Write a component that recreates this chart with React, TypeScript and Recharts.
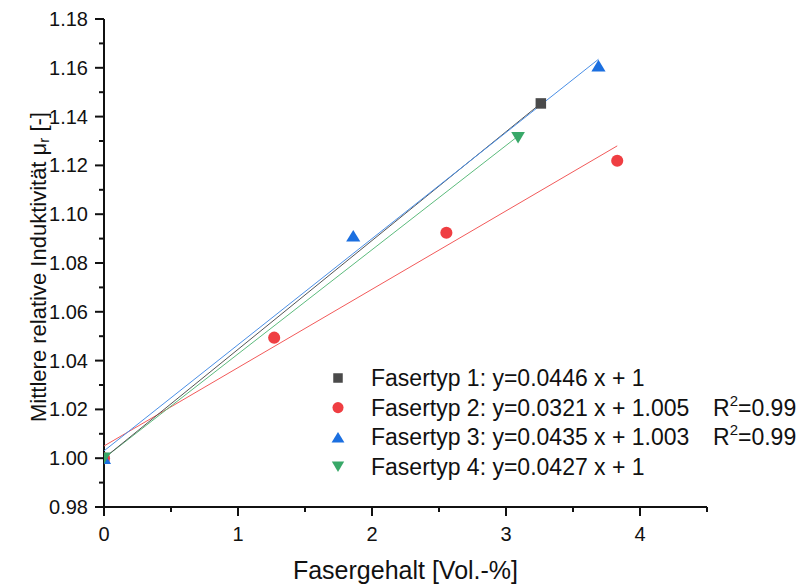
import { ScatterChart, Scatter, XAxis, YAxis } from 'recharts'

// measured points (x = Fasergehalt, y = mittlere relative Induktivität)
const typ1 = [
    { x: 0, y: 1.0 },
    { x: 3.26, y: 1.1454 },
]
const typ2 = [
    { x: 0, y: 1.0 },
    { x: 1.27, y: 1.0494 },
    { x: 2.555, y: 1.0924 },
    { x: 3.83, y: 1.1219 },
]
const typ3 = [
    { x: 0, y: 1.0 },
    { x: 1.86, y: 1.0912 },
    { x: 3.69, y: 1.1609 },
]
const typ4 = [
    { x: 0, y: 1.0 },
    { x: 3.09, y: 1.1313 },
]

// fit line end points
const fit1 = [
    { x: 0, y: 1.0 },
    { x: 3.26, y: 1.1454 },
]
const fit2 = [
    { x: 0, y: 1.005 },
    { x: 3.83, y: 1.128 },
]
const fit3 = [
    { x: 0, y: 1.003 },
    { x: 3.69, y: 1.1635 },
]
const fit4 = [
    { x: 0, y: 1.0 },
    { x: 3.09, y: 1.132 },
]

const xTicks = [0, 0.5, 1, 1.5, 2, 2.5, 3, 3.5, 4, 4.5]
const yTicks = [0.98, 0.99, 1.0, 1.01, 1.02, 1.03, 1.04, 1.05, 1.06, 1.07, 1.08, 1.09, 1.1, 1.11, 1.12, 1.13, 1.14, 1.15, 1.16, 1.17, 1.18]

const legendLabels = [
    'Fasertyp 1: y=0.0446 x + 1',
    'Fasertyp 2: y=0.0321 x + 1.005',
    'Fasertyp 3: y=0.0435 x + 1.003',
    'Fasertyp 4: y=0.0427 x + 1',
]
const legendR2 = ['', '0.99', '0.99', '']

const FONT = '"Liberation Sans", Arial, sans-serif'
const AXIS = '#111'

const MARK = {
    square: '#4a4a4a',
    circle: '#ef3e42',
    up: '#1b6fe0',
    down: '#38a868',
}
const LINE = {
    l1: '#555555',
    l2: '#f25a5a',
    l3: '#4a8fe6',
    l4: '#5cbb7c',
}

function marker(kind: string, cx: number, cy: number, s: number) {
    if (kind === 'square') {
        return <rect x={cx - s / 2} y={cy - s / 2} width={s} height={s} fill={MARK.square} />
    }
    if (kind === 'circle') {
        return <circle cx={cx} cy={cy} r={s / 2 + 0.8} fill={MARK.circle} />
    }
    if (kind === 'up') {
        const w = s * 1.35, h = s * 1.1
        return <polygon points={`${cx - w / 2},${cy + h / 2} ${cx + w / 2},${cy + h / 2} ${cx},${cy - h / 2}`} fill={MARK.up} />
    }
    const w = s * 1.3, h = s * 1.1
    return <polygon points={`${cx - w / 2},${cy - h / 2} ${cx + w / 2},${cy - h / 2} ${cx},${cy + h / 2}`} fill={MARK.down} />
}

const shapeOf = (kind: string) => (props: any) => <g>{marker(kind, props.cx, props.cy, 10.5)}</g>
const noShape = () => <g />

const YTick = (props: any) => {
    const { x, y, payload } = props
    const major = Math.round(payload.value * 100) % 2 === 0
    return (
        <g>
            <line x1={x} y1={y} x2={x - (major ? 9 : 5)} y2={y} stroke={AXIS} strokeWidth={2} />
            {major && (
                <text x={x - 16} y={y} textAnchor="end" dominantBaseline="central" fontSize={20} fontFamily={FONT} fill="#111">
                    {payload.value.toFixed(2)}
                </text>
            )}
        </g>
    )
}

const XTick = (props: any) => {
    const { x, y, payload } = props
    const major = Number.isInteger(payload.value)
    return (
        <g>
            <line x1={x} y1={y} x2={x} y2={y + (major ? 9 : 5)} stroke={AXIS} strokeWidth={2} />
            {major && (
                <text x={x} y={y + 27} textAnchor="middle" dominantBaseline="central" fontSize={20} fontFamily={FONT} fill="#111">
                    {payload.value}
                </text>
            )}
        </g>
    )
}

const YTitle = (props: any) => {
    const vb = props.viewBox
    const cx = 38
    const cy = vb.y + vb.height / 2 + 4
    return (
        <text x={cx} y={cy} transform={`rotate(-90 ${cx} ${cy})`} textAnchor="middle" dominantBaseline="central"
            fontSize={22} fontFamily={FONT} fill="#111">
            Mittlere relative Induktivität μ<tspan fontSize={15} dy={5}>r</tspan><tspan dy={-5}> [-]</tspan>
        </text>
    )
}

const XTitle = (props: any) => {
    const vb = props.viewBox
    return (
        <text x={vb.x + vb.width / 2} y={570} textAnchor="middle" dominantBaseline="central"
            fontSize={25} fontFamily={FONT} fill="#111">
            Fasergehalt [Vol.-%]
        </text>
    )
}

function LegendBox() {
    const kinds = ['square', 'circle', 'up', 'down']
    return (
        <svg width={800} height={586} style={{ position: 'absolute', left: 0, top: 0, pointerEvents: 'none' }}>
            {legendLabels.map((label, i) => {
                const cy = 378 + i * 29.6
                return (
                    <g key={label}>
                        {marker(kinds[i], 338, cy, 9.5)}
                        <text x={371} y={cy} dominantBaseline="central" fontSize={23} fontFamily={FONT} fill="#111">{label}</text>
                        {legendR2[i] && (
                            <text x={713} y={cy} dominantBaseline="central" fontSize={23} fontFamily={FONT} fill="#111">
                                R<tspan fontSize={15} dy={-8}>2</tspan><tspan dy={8}>={legendR2[i]}</tspan>
                            </text>
                        )}
                    </g>
                )
            })}
        </svg>
    )
}

export default function App() {
    return (
        <div style={{ position: 'absolute', left: 0, top: 0, width: 800, height: 586, background: '#fff' }}>
            <ScatterChart width={800} height={586} margin={{ top: 19, right: 93, bottom: 19, left: 0 }}>
                <XAxis
                    type="number"
                    dataKey="x"
                    domain={[0, 4.5]}
                    ticks={xTicks}
                    interval={0}
                    height={60}
                    axisLine={{ stroke: AXIS, strokeWidth: 2 }}
                    tickLine={false}
                    tickSize={0}
                    tickMargin={0}
                    tick={<XTick />}
                    allowDataOverflow
                    label={<XTitle />}
                />
                <YAxis
                    type="number"
                    dataKey="y"
                    domain={[0.98, 1.18]}
                    ticks={yTicks}
                    interval={0}
                    width={104}
                    axisLine={{ stroke: AXIS, strokeWidth: 2 }}
                    tickLine={false}
                    tickSize={0}
                    tickMargin={0}
                    tick={<YTick />}
                    allowDataOverflow
                    label={<YTitle />}
                />
                <Scatter data={fit2} line={{ stroke: LINE.l2, strokeWidth: 1 }} shape={noShape} isAnimationActive={false} />
                <Scatter data={fit4} line={{ stroke: LINE.l4, strokeWidth: 1 }} shape={noShape} isAnimationActive={false} />
                <Scatter data={fit1} line={{ stroke: LINE.l1, strokeWidth: 1 }} shape={noShape} isAnimationActive={false} />
                <Scatter data={fit3} line={{ stroke: LINE.l3, strokeWidth: 1 }} shape={noShape} isAnimationActive={false} />
                <Scatter data={typ1} shape={shapeOf('square')} isAnimationActive={false} />
                <Scatter data={typ2} shape={shapeOf('circle')} isAnimationActive={false} />
                <Scatter data={typ3} shape={shapeOf('up')} isAnimationActive={false} />
                <Scatter data={typ4} shape={shapeOf('down')} isAnimationActive={false} />
            </ScatterChart>
            <LegendBox />
        </div>
    )
}
